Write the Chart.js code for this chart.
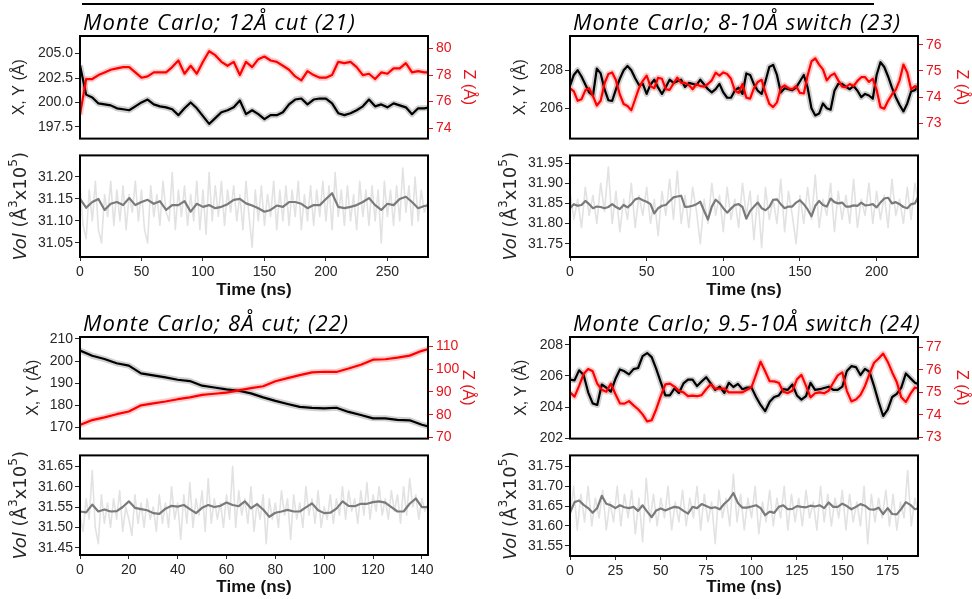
<!DOCTYPE html>
<html><head><meta charset="utf-8">
<script src="https://cdn.jsdelivr.net/npm/chart.js@4.4.1/dist/chart.umd.min.js"></script>
<style>
html,body{margin:0;padding:0;background:#fff;width:972px;height:599px;overflow:hidden;position:relative}
.c{position:absolute}
.rule{position:absolute;left:82px;top:3px;width:792px;height:2px;background:#000}
</style></head><body>
<div class="rule"></div>
<div class="c" style="left:0;top:0"><canvas id="a1" width="480" height="150"></canvas></div>
<div class="c" style="left:0;top:145px"><canvas id="a2" width="480" height="160"></canvas></div>
<div class="c" style="left:480px;top:0"><canvas id="a3" width="492" height="150"></canvas></div>
<div class="c" style="left:480px;top:145px"><canvas id="a4" width="492" height="160"></canvas></div>
<div class="c" style="left:0;top:300px"><canvas id="a5" width="480" height="150"></canvas></div>
<div class="c" style="left:0;top:445px"><canvas id="a6" width="480" height="154"></canvas></div>
<div class="c" style="left:480px;top:300px"><canvas id="a7" width="492" height="150"></canvas></div>
<div class="c" style="left:480px;top:445px"><canvas id="a8" width="492" height="154"></canvas></div>
<script>
// ---------------- DATA ----------------
// Panel 1: Monte Carlo; 12Å cut (21)  (sampling 5 ns)
const p1Title = 'Monte Carlo; 12Å cut (21)';
const p1Step = 5;
const p1XY = [203.8,200.8,200.5,199.9,199.8,199.7,199.4,199.3,199.2,199.6,200.0,200.3,199.8,199.6,199.5,199.3,198.7,199.4,200.0,199.4,198.6,197.8,198.4,199.0,199.2,199.5,200.2,198.8,199.2,198.8,198.3,198.7,198.7,199.0,199.8,200.3,200.4,199.8,200.3,200.4,200.4,199.9,198.9,198.7,198.9,199.2,199.6,200.3,199.6,199.8,199.5,199.9,199.7,199.5,198.8,199.4,199.4,199.5];
const p1Z = [75.0,77.7,77.7,78.0,78.2,78.4,78.5,78.6,78.6,78.2,77.8,77.9,78.2,78.2,78.2,78.6,79.1,78.1,78.7,78.1,79.0,79.8,79.5,79.0,78.7,79.0,78.0,79.0,78.6,79.2,79.4,79.1,79.0,78.7,78.4,77.9,77.6,78.3,78.0,77.8,77.8,78.0,79.0,78.9,79.0,78.6,78.0,78.1,77.7,78.2,78.1,78.5,78.5,78.9,78.2,78.3,78.2,78.2];
const p1Vol = [31.150,31.130,31.143,31.150,31.125,31.139,31.143,31.136,31.152,31.136,31.143,31.148,31.139,31.145,31.125,31.136,31.136,31.145,31.121,31.139,31.132,31.136,31.129,31.132,31.138,31.148,31.150,31.140,31.135,31.129,31.121,31.125,31.135,31.132,31.143,31.143,31.139,31.129,31.136,31.136,31.150,31.163,31.132,31.129,31.132,31.136,31.143,31.152,31.136,31.125,31.139,31.136,31.150,31.155,31.143,31.129,31.134,31.136];
const p1RawStep = 2.5;
const p1VolRaw = [31.18,31.09,31.06,31.17,31.10,31.19,31.08,31.05,31.16,31.11,31.19,31.09,31.17,31.10,31.18,31.08,31.16,31.12,31.19,31.10,31.17,31.08,31.05,31.18,31.11,31.16,31.09,31.19,31.12,31.10,31.21,31.08,31.17,31.11,31.18,31.09,31.16,31.10,31.19,31.08,31.17,31.07,31.21,31.10,31.18,31.11,31.19,31.09,31.17,31.12,31.18,31.10,31.16,31.08,31.19,31.11,31.04,31.17,31.10,31.18,31.09,31.16,31.11,31.19,31.08,31.17,31.10,31.18,31.09,31.17,31.11,31.19,31.08,31.16,31.10,31.18,31.09,31.17,31.11,31.19,31.10,31.18,31.08,31.21,31.11,31.17,31.09,31.18,31.10,31.16,31.08,31.19,31.11,31.17,31.09,31.18,31.10,31.17,31.05,31.19,31.11,31.17,31.09,31.18,31.10,31.22,31.12,31.18,31.09,31.20,31.10,31.17,31.12,31.14];
const p1XTicks = [0,50,100,150,200,250];
const p1XYTicks = [197.5,200.0,202.5,205.0];
const p1ZTicks = [74,76,78,80];
const p1VolTicks = [31.05,31.10,31.15,31.20];

// Panel 2: Monte Carlo; 8-10Å switch (23)  (sampling 2.5 ns)
const p2Title = 'Monte Carlo; 8-10Å switch (23)';
const p2Step = 2.5;
const p2XY = [207.17,207.75,208.0,207.67,207.25,206.83,206.67,208.08,207.83,207.0,206.42,206.38,207.0,207.55,208.0,208.22,208.0,207.58,207.22,207.28,206.75,207.25,207.5,207.08,206.75,207.12,207.5,207.33,207.42,207.5,207.12,207.33,207.28,207.22,207.5,207.25,207.0,206.83,207.0,207.28,206.83,206.55,206.55,206.92,207.08,206.75,207.83,207.75,207.25,206.92,206.75,207.42,208.17,208.28,207.75,206.83,207.05,207.0,206.95,207.08,207.42,207.75,207.08,206.0,205.62,205.72,206.25,206.0,205.92,206.92,207.28,207.28,207.12,207.0,207.17,206.92,206.58,206.75,206.67,206.5,207.75,208.42,208.17,207.67,207.08,206.58,206.17,205.83,206.25,206.88,206.95,207.25];
const p2Z = [74.34,74.22,73.86,73.92,74.26,74.34,74.04,73.68,73.86,74.52,74.88,74.94,74.64,74.10,73.74,73.66,73.50,73.92,74.34,74.62,74.82,74.42,74.34,74.74,74.70,74.30,74.28,74.52,74.74,74.54,74.54,74.46,74.30,74.50,74.42,74.40,74.50,74.64,74.93,74.82,74.94,74.88,74.70,74.26,74.16,74.50,73.98,73.94,74.34,74.58,74.66,74.16,73.74,73.62,73.80,74.34,74.45,74.34,74.30,74.42,74.16,74.14,74.82,75.36,75.48,75.24,75.06,74.64,74.82,74.90,74.64,74.40,74.38,74.50,74.42,74.62,74.76,74.76,74.58,74.70,74.28,73.62,73.56,73.86,74.10,74.28,74.64,75.24,74.94,74.30,74.42,74.28];
const p2Vol = [31.838,31.848,31.844,31.846,31.856,31.848,31.838,31.842,31.841,31.838,31.841,31.848,31.841,31.836,31.846,31.840,31.848,31.860,31.863,31.858,31.854,31.848,31.825,31.838,31.844,31.846,31.856,31.865,31.867,31.869,31.841,31.842,31.844,31.848,31.854,31.831,31.810,31.842,31.859,31.851,31.838,31.827,31.837,31.846,31.848,31.841,31.812,31.831,31.842,31.852,31.838,31.833,31.841,31.859,31.860,31.848,31.838,31.842,31.842,31.852,31.858,31.848,31.835,31.818,31.844,31.856,31.846,31.842,31.862,31.853,31.850,31.852,31.842,31.842,31.845,31.844,31.852,31.845,31.846,31.848,31.840,31.852,31.862,31.864,31.850,31.853,31.848,31.841,31.838,31.848,31.850,31.869];
const p2RawStep = 2.5;
const p2VolRaw = [31.88,31.81,31.86,31.79,31.89,31.82,31.87,31.80,31.90,31.83,31.94,31.80,31.88,31.78,31.86,31.81,31.90,31.79,31.87,31.82,31.89,31.80,31.86,31.77,31.88,31.82,31.91,31.81,31.93,31.80,31.87,31.79,31.89,31.83,31.75,31.86,31.80,31.90,31.82,31.87,31.78,31.89,31.81,31.86,31.79,31.90,31.82,31.88,31.76,31.87,31.74,31.89,31.81,31.86,31.80,31.91,31.78,31.88,31.82,31.75,31.87,31.80,31.89,31.81,31.92,31.79,31.86,31.82,31.90,31.78,31.88,31.81,31.87,31.80,31.91,31.79,31.86,31.82,31.90,31.80,31.88,31.81,31.87,31.79,31.91,31.82,31.86,31.80,31.89,31.81,31.90,31.84];
const p2XTicks = [0,50,100,150,200];
const p2XYTicks = [206,208];
const p2ZTicks = [73,74,75,76];
const p2VolTicks = [31.75,31.80,31.85,31.90,31.95];

// Panel 3: Monte Carlo; 8Å cut; (22)  (sampling 5 ns, volume 2.5 ns)
const p3Title = 'Monte Carlo; 8Å cut; (22)';
const p3Step = 5;
const p3XY = [204.8,202.4,200.9,199.0,197.9,194.4,193.5,192.6,191.5,190.9,188.8,188.0,187.1,186.5,185.3,183.5,181.9,180.5,179.2,178.7,178.5,178.8,176.9,175.5,174.0,174.0,173.3,173.1,171.1,169.6];
const p3Z = [75.5,77.6,78.8,80.2,81.4,84.1,85.0,85.8,86.8,87.6,88.7,89.2,89.7,90.7,91.7,92.5,94.7,96.1,97.4,98.6,98.9,98.8,100.3,102.0,104.2,104.4,105.1,106.0,108.1,109.6];
const p3VolStep = 2.5;
const p3Vol = [31.539,31.537,31.556,31.539,31.544,31.539,31.540,31.550,31.564,31.548,31.545,31.542,31.535,31.533,31.546,31.553,31.551,31.555,31.545,31.535,31.548,31.555,31.550,31.553,31.561,31.555,31.552,31.564,31.547,31.557,31.544,31.526,31.536,31.539,31.543,31.539,31.539,31.549,31.559,31.542,31.535,31.536,31.546,31.564,31.553,31.552,31.558,31.558,31.562,31.564,31.561,31.550,31.539,31.539,31.558,31.571,31.550,31.550];
const p3RawStep = 1.25;
const p3VolRaw = [31.53,31.49,31.57,31.52,31.64,31.50,31.46,31.58,31.51,31.56,31.50,31.57,31.52,31.59,31.49,31.55,31.52,31.48,31.58,31.51,31.56,31.50,31.57,31.52,31.55,31.49,31.58,31.51,31.56,31.50,31.60,31.52,31.56,31.47,31.58,31.51,31.61,31.50,31.57,31.53,31.59,31.49,31.62,31.51,31.57,31.52,31.56,31.50,31.58,31.52,31.65,31.50,31.59,31.53,31.57,31.51,31.60,31.49,31.56,31.52,31.58,31.46,31.57,31.52,31.56,31.50,31.59,31.53,31.57,31.47,31.58,31.52,31.56,31.50,31.60,31.53,31.57,31.51,31.59,31.50,31.55,31.52,31.58,31.51,31.57,31.53,31.60,31.52,31.59,31.54,31.57,31.51,31.59,31.53,31.61,31.52,31.58,31.54,31.60,31.53,31.57,31.52,31.59,31.54,31.58,31.51,31.60,31.53,31.62,31.55,31.58,31.52,31.57,31.54,31.56];
const p3XTicks = [0,20,40,60,80,100,120,140];
const p3XYTicks = [170,180,190,200,210];
const p3ZTicks = [70,80,90,100,110];
const p3VolTicks = [31.45,31.50,31.55,31.60,31.65];

// Panel 4: Monte Carlo; 9.5-10Å switch (24)  (sampling 2.5 ns)
const p4Title = 'Monte Carlo; 9.5-10Å switch (24)';
const p4Step = 2.5;
const p4XY = [205.76,205.72,206.36,206.06,204.95,204.24,204.14,205.45,205.25,204.99,205.80,206.42,206.30,206.10,206.44,206.51,207.27,207.47,207.21,206.46,205.60,204.75,204.75,205.19,204.91,205.52,205.76,205.76,205.35,205.64,205.92,205.52,205.11,205.31,204.91,205.56,205.29,205.49,205.15,205.25,205.25,204.65,204.14,203.74,204.34,204.65,204.75,205.15,205.11,205.45,204.75,204.48,204.71,205.56,205.11,205.15,205.23,205.31,205.11,205.11,205.31,206.32,206.63,206.57,206.06,206.46,206.26,205.35,204.34,203.43,203.84,204.65,204.85,205.25,206.16,205.86,205.56,205.45];
const p4Z = [75.00,74.81,75.29,75.82,76.04,75.94,75.39,75.12,75.03,75.39,74.93,74.51,74.50,74.61,74.42,74.25,74.02,73.71,73.76,74.25,74.83,75.36,75.39,75.26,75.07,75.00,74.83,74.86,74.83,74.88,75.14,75.36,75.17,75.17,75.17,75.00,75.00,75.00,75.00,75.12,75.23,75.79,76.37,75.94,75.50,75.49,75.43,75.03,74.97,75.07,75.58,75.78,75.29,74.78,74.96,75.00,74.96,75.07,75.43,75.76,75.89,75.07,74.60,74.68,74.88,75.29,75.83,76.32,76.51,76.73,76.37,75.89,75.46,74.78,74.57,74.93,75.22,75.14];
const p4Vol = [31.633,31.660,31.664,31.653,31.645,31.633,31.645,31.676,31.656,31.652,31.645,31.652,31.647,31.645,31.648,31.638,31.652,31.636,31.622,31.639,31.644,31.639,31.644,31.648,31.646,31.638,31.631,31.648,31.645,31.655,31.650,31.645,31.647,31.642,31.656,31.666,31.683,31.658,31.646,31.646,31.649,31.652,31.645,31.627,31.636,31.633,31.648,31.652,31.642,31.643,31.650,31.648,31.647,31.651,31.649,31.652,31.645,31.659,31.648,31.648,31.656,31.650,31.642,31.648,31.655,31.651,31.642,31.641,31.646,31.630,31.645,31.630,31.629,31.643,31.660,31.653,31.642,31.645];
const p4RawStep = 2;
const p4VolRaw = [31.62,31.70,31.59,31.68,31.61,31.70,31.60,31.67,31.62,31.69,31.59,31.66,31.61,31.70,31.60,31.68,31.62,31.69,31.58,31.67,31.56,31.72,31.61,31.68,31.60,31.67,31.62,31.70,31.59,31.66,31.61,31.69,31.60,31.67,31.62,31.70,31.59,31.68,31.61,31.66,31.555,31.69,31.62,31.67,31.60,31.73,31.61,31.68,31.59,31.67,31.62,31.70,31.58,31.66,31.61,31.69,31.60,31.67,31.62,31.70,31.59,31.68,31.61,31.67,31.60,31.69,31.62,31.66,31.59,31.70,31.61,31.68,31.60,31.67,31.62,31.69,31.59,31.68,31.61,31.66,31.60,31.70,31.555,31.68,31.61,31.67,31.62,31.69,31.60,31.68,31.59,31.66,31.62,31.74,31.60,31.67,31.63];
const p4XTicks = [0,25,50,75,100,125,150,175];
const p4XYTicks = [202,204,206,208];
const p4ZTicks = [73,74,75,76,77];
const p4VolTicks = [31.55,31.60,31.65,31.70,31.75];

// ---------------- RENDERING ----------------
const TXT = '#262626', RED = '#e8141c';
Chart.defaults.font.family = '"Liberation Sans", Arial, sans-serif';

const decor = {
  id: 'decor',
  afterDraw(chart, args, o) {
    const {ctx, chartArea: a} = chart;
    ctx.save();
    ctx.strokeStyle = '#000'; ctx.lineWidth = 2;
    ctx.strokeRect(a.left, a.top, a.right - a.left, a.bottom - a.top);
    if (o.title) {
      ctx.font = 'italic 22px "Open Sans", sans-serif';
      if ('letterSpacing' in ctx) ctx.letterSpacing = '1.1px';
      ctx.fillStyle = '#000'; ctx.textAlign = 'left'; ctx.textBaseline = 'alphabetic';
      ctx.fillText(o.title, a.left + 3, a.top - 6);
      if ('letterSpacing' in ctx) ctx.letterSpacing = '0px';
    }
    if (o.vol) {
      const fs = 18;
      const parts = [['Vol','italic ',1,0],[' (Å','',1,0],['3','',0.68,-0.38],['x10','',1,0],['5','',0.68,-0.38],[')','',1,0]];
      ctx.translate(a.left - 59, (a.top + a.bottom) / 2);
      ctx.rotate(-Math.PI / 2);
      ctx.fillStyle = TXT; ctx.textAlign = 'left'; ctx.textBaseline = 'middle';
      const fam = 'px "DejaVu Sans", sans-serif';
      const w = parts.map(p => { ctx.font = p[1] + (fs * p[2]) + fam; return ctx.measureText(p[0]).width; });
      let x = -w.reduce((s, v) => s + v, 0) / 2;
      parts.forEach((p, i) => { ctx.font = p[1] + (fs * p[2]) + fam; ctx.fillText(p[0], x, p[3] * fs); x += w[i]; });
    }
    ctx.restore();
  }
};
Chart.register(decor);

const pts = (vals, step) => vals.map((v, i) => ({x: i * step, y: v}));
const line = (data, axis, color, width) => ({data, yAxisID: axis, borderColor: color, borderWidth: width, pointRadius: 0, tension: 0, fill: false, clip: 0, borderJoinStyle: 'round'});

function yScale(pos, min, max, ticks, dec, color, width, title, tpad) {
  return {
    position: pos, min, max,
    afterBuildTicks: s => { s.ticks = ticks.map(v => ({value: v})); },
    afterFit: s => { s.width = width; },
    ticks: {callback: v => Number(v).toFixed(dec), color, font: {size: 14}, padding: pos === 'left' ? 2 : 3, autoSkip: false},
    grid: {drawOnChartArea: false, drawTicks: true, tickLength: 5, color, tickWidth: 1},
    border: {display: false},
    title: title ? {display: true, text: title, color, font: {size: 16}, padding: {top: tpad, bottom: 0}} : {display: false}
  };
}

// Chart.js paints dataset 0 on top, so the main lines come first and the faint halos last.
function upper(id, c) {
  new Chart(document.getElementById(id), {
    type: 'line',
    data: {datasets: [
      line(pts(c.z, c.step), 'y2', '#ff0000', 2.2),
      line(pts(c.xy, c.step), 'y', '#000', 2.2),
      line(pts(c.z, c.step), 'y2', 'rgba(255,110,110,0.35)', 6),
      line(pts(c.xy, c.step), 'y', 'rgba(150,150,150,0.45)', 6)
    ]},
    options: {
      responsive: false, animation: false, events: [],
      layout: {padding: {top: c.padTop, bottom: c.padBottom, left: 0, right: 0}},
      plugins: {legend: {display: false}, tooltip: {enabled: false}, decor: {title: c.title}},
      scales: {
        x: {type: 'linear', display: false, min: 0, max: c.xmax},
        y: yScale('left', c.yMin, c.yMax, c.yTicks, c.yDec, TXT, c.leftW, 'X, Y (Å)', c.ytPad),
        y2: yScale('right', c.zMin, c.zMax, c.zTicks, 0, RED, c.rightW, 'Z (Å)', c.ztPad)
      }
    }
  });
}

function lower(id, c) {
  new Chart(document.getElementById(id), {
    type: 'line',
    data: {datasets: [
      line(pts(c.vol, c.step), 'y', '#7a7a7a', 2.2),
      line(pts(c.raw, c.rawStep), 'y', '#e2e2e2', 1.6)
    ]},
    options: {
      responsive: false, animation: false, events: [],
      layout: {padding: {top: c.padTop, bottom: 0, left: 0, right: c.rightW}},
      plugins: {legend: {display: false}, tooltip: {enabled: false}, decor: {vol: true}},
      scales: {
        x: {
          type: 'linear', position: 'bottom', min: 0, max: c.xmax,
          afterBuildTicks: s => { s.ticks = c.xTicks.map(v => ({value: v})); },
          afterFit: s => { s.height = c.xH; },
          ticks: {callback: v => String(v), color: TXT, font: {size: 14}, padding: 3, maxRotation: 0, autoSkip: false},
          grid: {drawOnChartArea: false, drawTicks: true, tickLength: 4, color: TXT},
          border: {display: false},
          title: {display: true, text: 'Time (ns)', color: '#111', font: {size: 17, weight: 'bold'}, padding: {top: 0, bottom: c.xtPad}}
        },
        y: yScale('left', c.vMin, c.vMax, c.vTicks, 2, TXT, c.leftW, null, 0)
      }
    }
  });
}

upper('a1', {title: p1Title, xy: p1XY, z: p1Z, step: p1Step, xmax: 283, padTop: 36, padBottom: 7,
  yMin: 196.3, yMax: 206.8, yTicks: p1XYTicks, yDec: 1, leftW: 80, ytPad: 10.4,
  zMin: 73.2, zMax: 80.95, zTicks: p1ZTicks, rightW: 52, ztPad: 2.4});
lower('a2', {vol: p1Vol, step: p1Step, raw: p1VolRaw, rawStep: p1RawStep, xmax: 283, xTicks: p1XTicks,
  padTop: 4, xH: 48, xtPad: 4, leftW: 80, rightW: 52, vMin: 31.018, vMax: 31.249, vTicks: p1VolTicks});

upper('a3', {title: p2Title, xy: p2XY, z: p2Z, step: p2Step, xmax: 227, padTop: 36, padBottom: 6,
  yMin: 204.4, yMax: 209.8, yTicks: p2XYTicks, yDec: 0, leftW: 90, ytPad: 31.4,
  zMin: 72.42, zMax: 76.33, zTicks: p2ZTicks, rightW: 54, ztPad: 1.4});
lower('a4', {vol: p2Vol, step: p2Step, raw: p2VolRaw, rawStep: p2RawStep, xmax: 227, xTicks: p2XTicks,
  padTop: 4, xH: 48, xtPad: 4, leftW: 90, rightW: 54, vMin: 31.717, vMax: 31.969, vTicks: p2VolTicks});

upper('a5', {title: p3Title, xy: p3XY, z: p3Z, step: p3Step, xmax: 142.5, padTop: 37, padBottom: 7,
  yMin: 164.8, yMax: 210.9, yTicks: p3XYTicks, yDec: 0, leftW: 80, ytPad: 24.4,
  zMin: 69.45, zMax: 114.2, zTicks: p3ZTicks, rightW: 52, ztPad: 3.4});
lower('a6', {vol: p3Vol, step: p3VolStep, raw: p3VolRaw, rawStep: p3RawStep, xmax: 142.5, xTicks: p3XTicks,
  padTop: 2, xH: 44, xtPad: 1, leftW: 80, rightW: 52, vMin: 31.432, vMax: 31.677, vTicks: p3VolTicks});

upper('a7', {title: p4Title, xy: p4XY, z: p4Z, step: p4Step, xmax: 191.7, padTop: 37, padBottom: 7,
  yMin: 201.98, yMax: 208.5, yTicks: p4XYTicks, yDec: 0, leftW: 90, ytPad: 32.4,
  zMin: 72.94, zMax: 77.47, zTicks: p4ZTicks, rightW: 54, ztPad: 1.4});
lower('a8', {vol: p4Vol, step: p4Step, raw: p4VolRaw, rawStep: p4RawStep, xmax: 191.7, xTicks: p4XTicks,
  padTop: 2, xH: 43, xtPad: 1, leftW: 90, rightW: 54, vMin: 31.524, vMax: 31.778, vTicks: p4VolTicks});
</script>
</body></html>
